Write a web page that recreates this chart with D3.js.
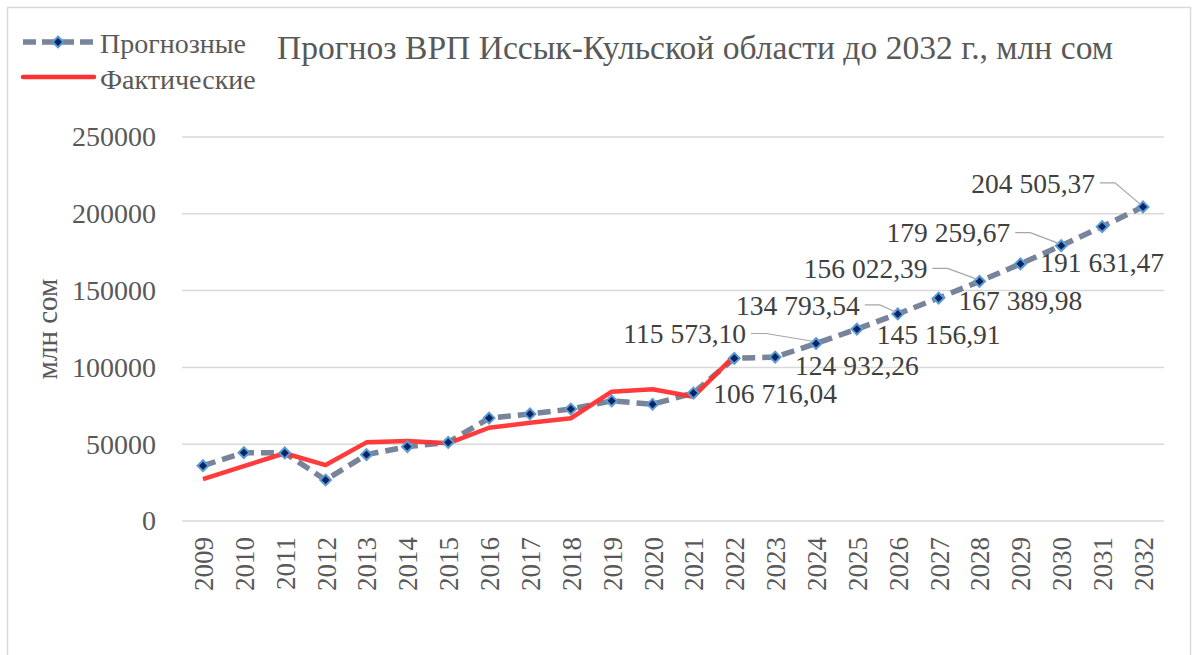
<!DOCTYPE html>
<html lang="ru">
<head>
<meta charset="UTF-8">
<title>Прогноз ВРП Иссык-Кульской области</title>
<script src="https://d3js.org/d3.v7.min.js"></script>
<style>
  body { margin: 0; background: #fff; }
  svg text { font-family: 'Liberation Serif', 'DejaVu Serif', serif !important; }
</style>
</head>
<body>
<script>
// data
const years = d3.range(2009, 2033).map(String);
const forecast = [36000, 44500, 44300, 26700, 43200, 48400, 51200, 67000, 69700, 72900, 78200, 76000, 83300, 105900,
                  106716.04, 115573.10, 124932.26, 134793.54, 145156.91, 156022.39, 167389.98, 179259.67, 191631.47, 204505.37];
const actualYears = d3.range(2009, 2023).map(String);
const actual = [27300, 35700, 44100, 36400, 51200, 52100, 50600, 60700, 64000, 66900, 84200, 85800, 80900, 107500];
const labelYears = d3.range(2023, 2033).map(String);
const yTicks = [0, 50000, 100000, 150000, 200000, 250000];

const W = 1198, H = 655;
const svg = d3.select('body').append('svg').attr('width', W).attr('height', H);

// outer frame
svg.append('rect').attr('x', 7.5).attr('y', 7.5).attr('width', 1183).attr('height', 700)
  .attr('fill', 'none').attr('stroke', '#d9d9d9').attr('stroke-width', 1.5);

const x = d3.scalePoint().domain(years).range([203, 1143]);
const y = d3.scaleLinear().domain([0, 250000]).range([521, 137]);

// gridlines
svg.append('g').selectAll('line').data(yTicks).join('line')
  .attr('x1', 182).attr('x2', 1164)
  .attr('y1', d => y(d)).attr('y2', d => y(d))
  .attr('stroke', '#d9d9d9').attr('stroke-width', 1.5);

// y axis
const yAxis = svg.append('g').attr('transform', 'translate(164,0)')
  .call(d3.axisLeft(y).tickValues(yTicks).tickFormat(d3.format('d')).tickSize(0).tickPadding(8));
yAxis.select('.domain').remove();
yAxis.attr('font-family', null);
yAxis.selectAll('text').attr('font-size', 28).attr('fill', '#595959');

// x axis
const xAxis = svg.append('g').attr('transform', 'translate(0,521)')
  .call(d3.axisBottom(x).tickSize(0));
xAxis.select('.domain').remove();
xAxis.attr('font-family', null);
xAxis.selectAll('text')
  .attr('font-size', 27).attr('fill', '#595959')
  .attr('transform', 'rotate(-90)')
  .attr('text-anchor', 'end').attr('x', -16).attr('y', 0).attr('dy', '0.35em');

// y axis title
svg.append('text').attr('transform', 'translate(57,329) rotate(-90)')
  .attr('text-anchor', 'middle').attr('font-size', 29).attr('fill', '#595959').text('млн сом');

// title
svg.append('text').attr('x', 695).attr('y', 59).attr('text-anchor', 'middle')
  .attr('font-size', 33.6).attr('fill', '#595959')
  .text('Прогноз ВРП Иссык-Кульской области до 2032 г., млн сом');

// forecast line
const fPts = years.map((d, i) => ({ year: d, value: forecast[i] }));
const line = d3.line().x(d => x(d.year)).y(d => y(d.value));
svg.append('path').datum(fPts).attr('d', line)
  .attr('fill', 'none').attr('stroke', '#78849a').attr('stroke-width', 5.5)
  .attr('stroke-dasharray', '13,7').attr('stroke-linejoin', 'round');

// actual line
const aPts = actualYears.map((d, i) => ({ year: d, value: actual[i] }));
svg.append('path').datum(aPts).attr('d', line)
  .attr('fill', 'none').attr('stroke', '#ff3030').attr('stroke-width', 4.5)
  .attr('stroke-linejoin', 'round').attr('opacity', 0.95);

// markers
const diamond = d3.symbol().type(d3.symbolDiamond2).size(75);
svg.append('g').selectAll('path').data(fPts).join('path')
  .attr('d', diamond)
  .attr('transform', d => `translate(${x(d.year)},${y(d.value)})`)
  .attr('fill', '#0b2562').attr('stroke', '#5b9bd5').attr('stroke-width', 2);

// data labels: odd years below, even years up-left with leader line
const fmt = v => d3.format(',.2f')(v).replace(/,/g, ' ').replace('.', ',');
const leftShift = { '2024': 70, '2026': 38, '2028': 52, '2030': 51, '2032': 48 };
const upShift = { '2024': 10, '2026': 9, '2028': 13, '2030': 13, '2032': 24 };
const lbl = svg.append('g');
labelYears.forEach((yr, k) => {
  const i = years.indexOf(yr);
  const px = x(yr), py = y(forecast[i]);
  if (k % 2 === 0) {
    lbl.append('text').attr('x', px).attr('y', py + 36).attr('dy', '0.35em')
      .attr('text-anchor', 'middle').attr('font-size', 27.5).attr('fill', '#404040')
      .text(fmt(forecast[i]));
  } else {
    const rx = px - leftShift[yr], ty = py - upShift[yr];
    lbl.append('text').attr('x', rx).attr('y', ty).attr('dy', '0.35em')
      .attr('text-anchor', 'end').attr('font-size', 27.5).attr('fill', '#404040')
      .text(fmt(forecast[i]));
    lbl.append('polyline')
      .attr('points', `${rx + 5},${ty} ${rx + 20},${ty} ${px - 2},${py - 2}`)
      .attr('fill', 'none').attr('stroke', '#a6a6a6').attr('stroke-width', 1.2);
  }
});

// legend
const lg = svg.append('g');
lg.append('line').attr('x1', 23).attr('x2', 94).attr('y1', 42).attr('y2', 42)
  .attr('stroke', '#78849a').attr('stroke-width', 5.5).attr('stroke-dasharray', '13,6');
lg.append('path').attr('d', diamond).attr('transform', 'translate(58,42)')
  .attr('fill', '#0b2562').attr('stroke', '#5b9bd5').attr('stroke-width', 2);
lg.append('text').attr('x', 100).attr('y', 43).attr('dy', '0.35em')
  .attr('font-size', 28).attr('fill', '#595959').text('Прогнозные');
lg.append('line').attr('x1', 23).attr('x2', 94).attr('y1', 77).attr('y2', 77)
  .attr('stroke', '#ff3030').attr('stroke-width', 4.5).attr('stroke-linecap', 'round');
lg.append('text').attr('x', 100).attr('y', 79).attr('dy', '0.35em')
  .attr('font-size', 28).attr('fill', '#595959').text('Фактические');
</script>
</body>
</html>
